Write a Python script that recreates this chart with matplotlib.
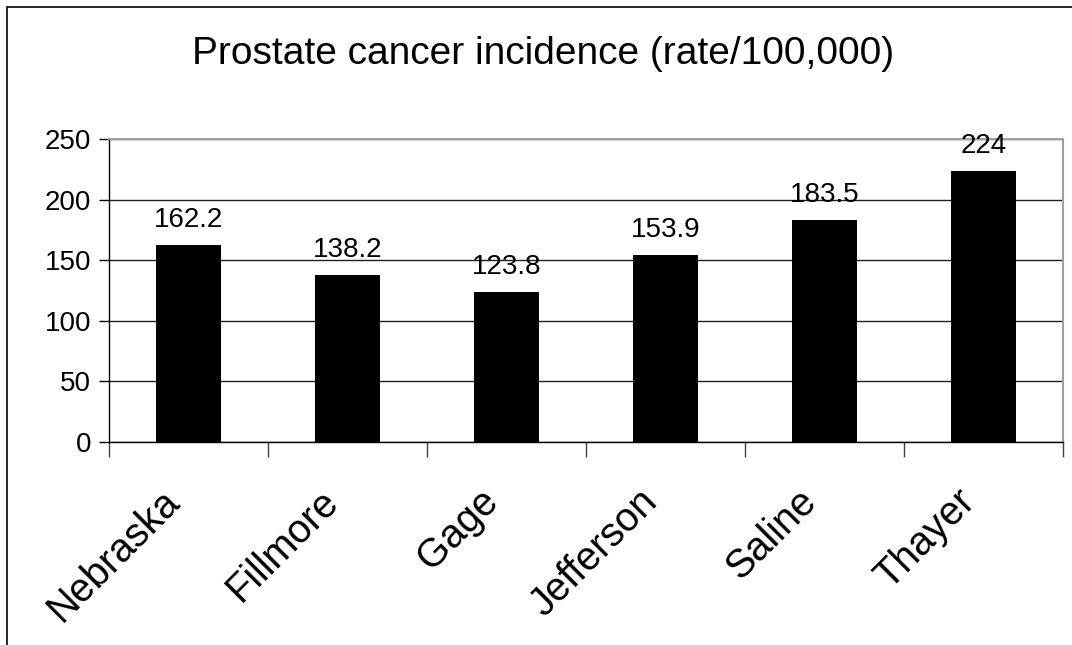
import matplotlib
matplotlib.use("Agg")
import matplotlib.pyplot as plt
from matplotlib.patches import Rectangle

counties = ["Nebraska", "Fillmore", "Gage", "Jefferson", "Saline", "Thayer"]
rates = [162.2, 138.2, 123.8, 153.9, 183.5, 224]
rate_labels = ["162.2", "138.2", "123.8", "153.9", "183.5", "224"]
yticks = [0, 50, 100, 150, 200, 250]

plt.rcParams['font.family'] = ['Liberation Sans', 'DejaVu Sans']

fig = plt.figure(figsize=(10.72, 6.45), dpi=100)
# outer chart frame (right/bottom edges are cut off in the original)
fig.patches.append(Rectangle((7 / 1072, -0.1), 1.2, (645 - 7) / 645 + 0.1,
                             transform=fig.transFigure, fill=False,
                             edgecolor="#000000", linewidth=1.2))

ax = fig.add_axes([109 / 1072, (645 - 442) / 645, (1063 - 109) / 1072, (442 - 139) / 645])

x = range(len(counties))
ax.bar(x, rates, width=0.41, color="black", zorder=3)
ax.set_xlim(-0.5, len(counties) - 0.5)
ax.set_ylim(0, 250)

ax.set_yticks(yticks)
ax.set_yticklabels([str(v) for v in yticks], fontsize=20)
ax.tick_params(axis="y", length=7, width=1, direction="out", pad=6)
ax.yaxis.grid(True, color="#202020", linewidth=1, zorder=0)

# category boundary ticks
ax.set_xticks([i - 0.5 for i in range(len(counties) + 1)])
ax.set_xticklabels([])
ax.tick_params(axis="x", length=11, width=1, color="#404040", direction="out")
for i, name in enumerate(counties):
    ax.annotate(name, xy=(i, 0), xycoords=("data", "axes fraction"),
                xytext=(-28, -40), textcoords="offset pixels",
                rotation=45, ha="right", va="top", rotation_mode="anchor",
                fontsize=28.5)

for i, (v, lab) in enumerate(zip(rates, rate_labels)):
    ax.annotate(lab, xy=(i, v), xytext=(0, 12), textcoords="offset pixels",
                ha="center", va="bottom", fontsize=20)

for s in ["left", "bottom"]:
    ax.spines[s].set_color("black")
    ax.spines[s].set_linewidth(1)
for s in ["top", "right"]:
    ax.spines[s].set_color("#a0a0a0")
    ax.spines[s].set_linewidth(1.5)

fig.text(543 / 1072, 1 - 54 / 645, "Prostate cancer incidence (rate/100,000)",
         ha="center", va="center", fontsize=28)

fig.savefig("out.png", dpi=100)
